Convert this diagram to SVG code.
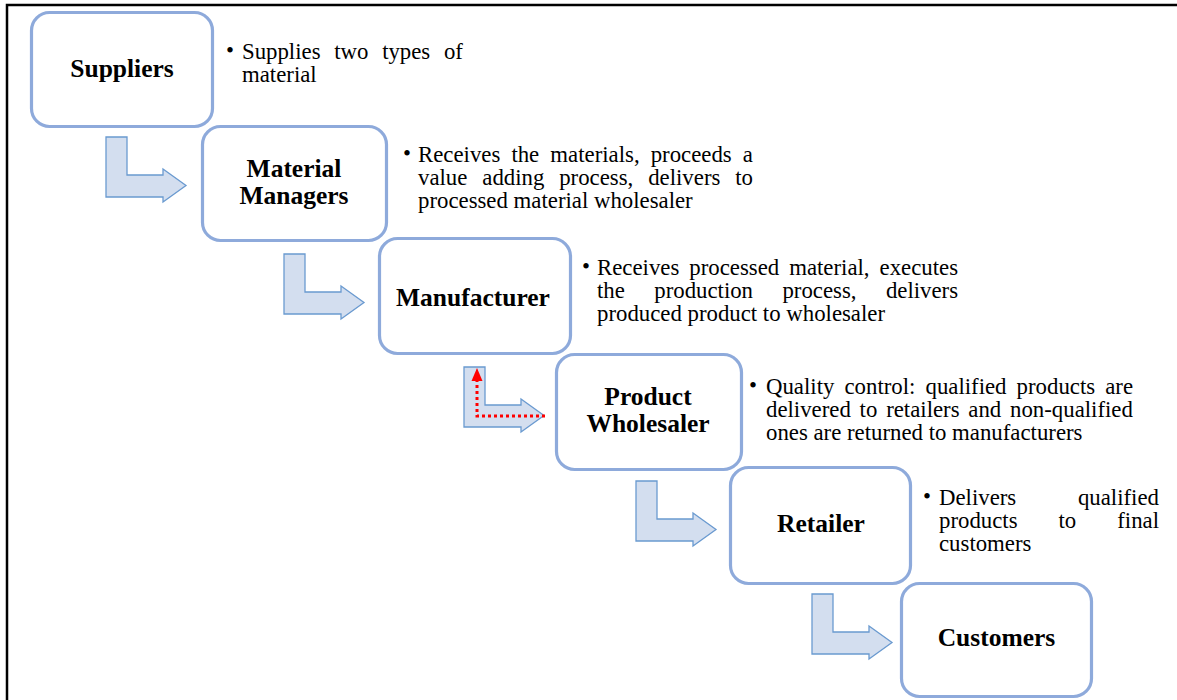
<svg xmlns="http://www.w3.org/2000/svg" width="1177" height="700" viewBox="0 0 1177 700">
<style>
.box{fill:#fff;stroke:#8EAADB;stroke-width:3.2}
.lbl{font-family:"Liberation Serif","Times New Roman",serif;font-weight:bold;font-size:25.5px;fill:#000;text-anchor:middle}
.txt{font-family:"Liberation Serif","Times New Roman",serif;font-size:22.8px;fill:#000}
.arr{fill:#D3DEEF;stroke:#6A9AD0;stroke-width:1.3;stroke-linejoin:miter}
.red{fill:none;stroke:#FF0000;stroke-width:3;stroke-dasharray:3 3}
</style>
<rect x="0" y="0" width="1177" height="700" fill="#fff"/>
<path d="M7,700 V5 H1177" fill="none" stroke="#000" stroke-width="2.5"/>

<g id="connectors">
<path class="arr" d="M106,137 H127 V175 H163 V169 L186,185.5 L163,202 V197 H106 Z"/>
<path class="arr" d="M284,254 H305 V292 H341 V286 L364,302.5 L341,319 V314 H284 Z"/>
<path class="arr" d="M464,367 H485 V405 H521 V399 L544,415.5 L521,432 V427 H464 Z"/>
<path class="arr" d="M636,481 H657 V519 H693 V513 L716,529.5 L693,546 V541 H636 Z"/>
<path class="arr" d="M812,594 H833 V632 H869 V626 L892,642.5 L869,659 V654 H812 Z"/>
<path class="red" d="M545,416 H477 V380"/>
<path d="M471.5,381 L477,368 L482.5,381 Z" fill="#FF0000"/>
</g>

<g id="suppliers">
<rect class="box" x="31.5" y="12.5" width="181" height="114" rx="18"/>
<text class="lbl" x="122" y="77">Suppliers</text>
<text class="txt" x="226" y="58">•</text>
<text class="txt" x="242" y="59" word-spacing="8">Supplies two types of</text>
<text class="txt" x="242" y="82">material</text>
</g>

<g id="material-managers">
<rect class="box" x="202.5" y="126.5" width="184" height="114" rx="18"/>
<text class="lbl" x="294" y="177">Material</text>
<text class="lbl" x="294" y="204">Managers</text>
<text class="txt" x="403" y="161">•</text>
<text class="txt" x="418" y="162" word-spacing="5.4">Receives the materials, proceeds a</text>
<text class="txt" x="418" y="185" word-spacing="9.2">value adding process, delivers to</text>
<text class="txt" x="418" y="208">processed material wholesaler</text>
</g>

<g id="manufacturer">
<rect class="box" x="379.5" y="238.5" width="191" height="115" rx="18"/>
<text class="lbl" x="473" y="306">Manufacturer</text>
<text class="txt" x="582" y="274">•</text>
<text class="txt" x="597" y="275" word-spacing="4.3">Receives processed material, executes</text>
<text class="txt" x="597" y="298" word-spacing="23.7">the production process, delivers</text>
<text class="txt" x="597" y="321">produced product to wholesaler</text>
</g>

<g id="product-wholesaler">
<rect class="box" x="556.5" y="354.5" width="185" height="115" rx="18"/>
<text class="lbl" x="648" y="405">Product</text>
<text class="lbl" x="648" y="432">Wholesaler</text>
<text class="txt" x="749" y="393">•</text>
<text class="txt" x="766" y="394" word-spacing="4.4">Quality control: qualified products are</text>
<text class="txt" x="766" y="417" word-spacing="3.1">delivered to retailers and non-qualified</text>
<text class="txt" x="766" y="440">ones are returned to manufacturers</text>
</g>

<g id="retailer">
<rect class="box" x="730.5" y="467.5" width="180" height="116" rx="18"/>
<text class="lbl" x="821" y="532">Retailer</text>
<text class="txt" x="923" y="504">•</text>
<text class="txt" x="939" y="505" word-spacing="56">Delivers qualified</text>
<text class="txt" x="939" y="528" word-spacing="35.3">products to final</text>
<text class="txt" x="939" y="551">customers</text>
</g>

<g id="customers">
<rect class="box" x="901.5" y="583.5" width="190" height="113" rx="18"/>
<text class="lbl" x="996.5" y="646">Customers</text>
</g>
</svg>
